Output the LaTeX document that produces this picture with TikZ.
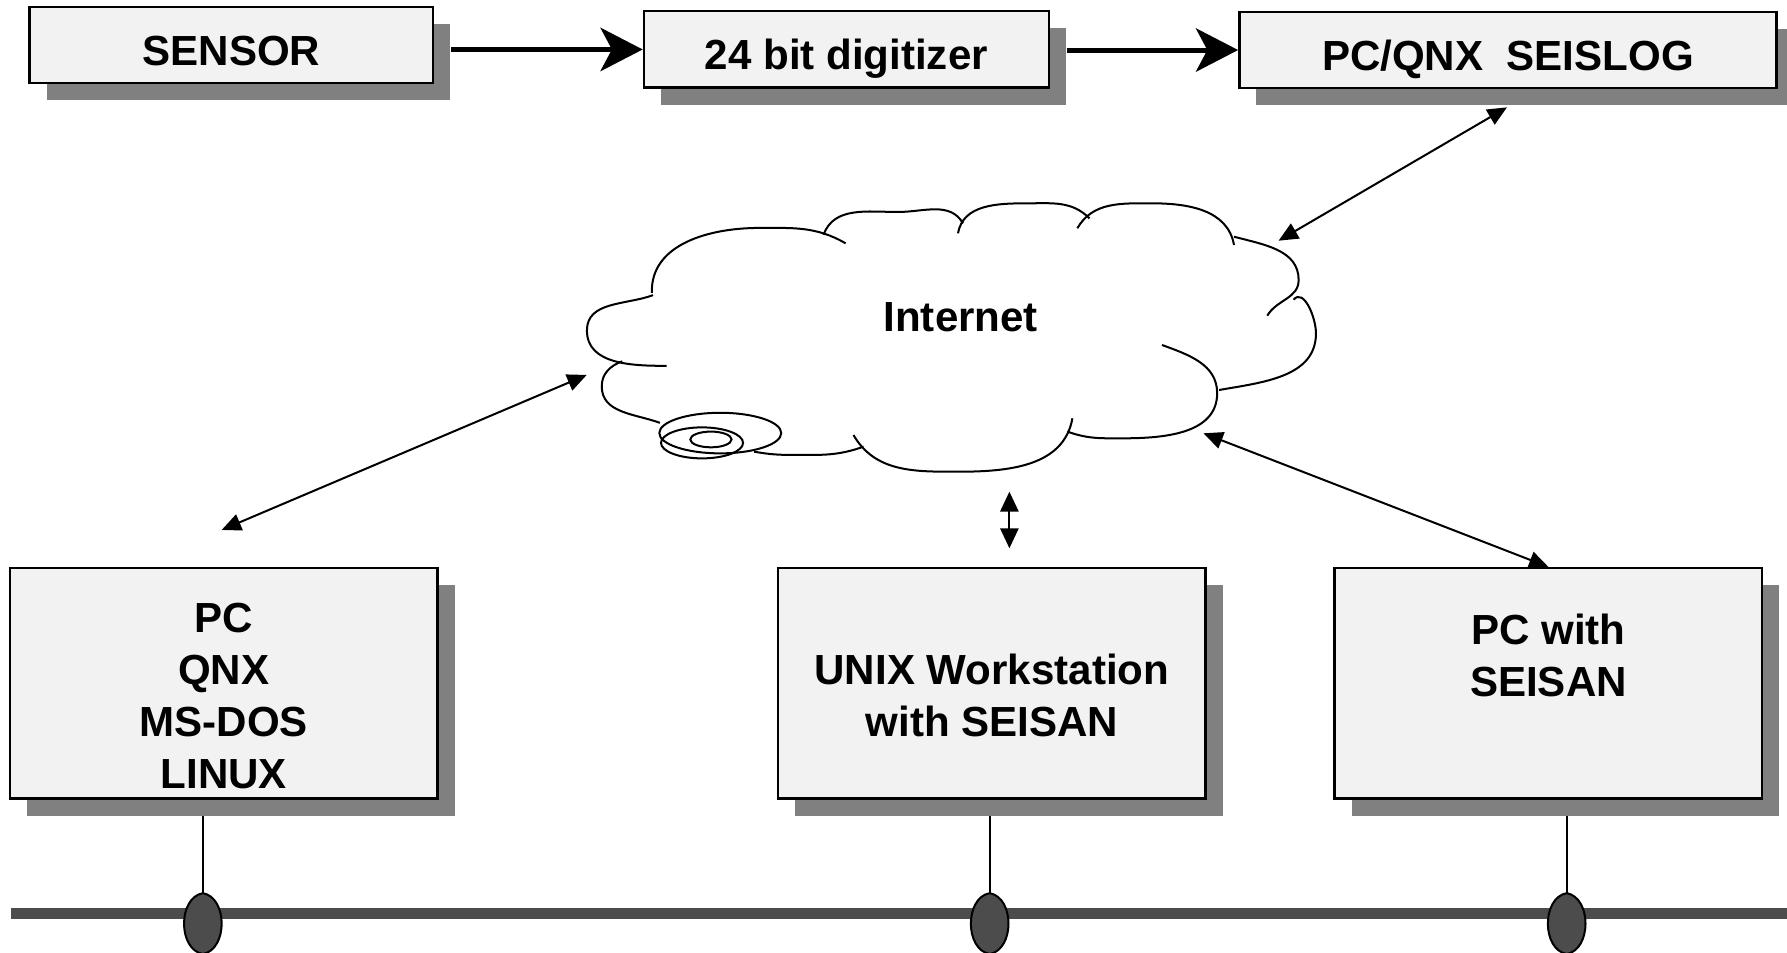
\documentclass[tikz,border=0pt]{standalone}
\usepackage{fontspec}
\setmainfont{Liberation Sans}
\usepackage{tikz}
\usetikzlibrary{shapes.geometric,shadows,backgrounds,arrows.meta}

\begin{document}
\begin{tikzpicture}[x=0.01cm,y=-0.01cm]%%seisnet

                \tikzstyle{box}      = [draw, line width=0.6pt, fill=black!5, inner sep=0pt, font=\bfseries\fontsize{10.5}{13}\selectfont, drop shadow={shadow xshift=0.15cm, shadow yshift=-0.15cm, fill=black!50, opacity=1}]
                \tikzstyle{topbox}   = [box, minimum height=0.67cm, text height=10pt, text depth=0pt]
                \tikzstyle{hostbox}  = [box, minimum width=3.75cm, minimum height=2.02cm]
                \tikzstyle{hosttext} = [font=\bfseries\fontsize{10.5}{13}\selectfont, align=center, inner sep=0pt]
                \tikzstyle{feed}     = [line width=1.25pt, -{Stealth[length=0.37cm, width=0.38cm, inset=0.1cm]}]
                \tikzstyle{link}     = [line width=0.5pt, {Triangle[length=0.17cm, width=0.15cm]}-{Triangle[length=0.17cm, width=0.15cm]}]
                \tikzstyle{shortlink}= [line width=0.5pt, {Triangle[length=0.175cm, width=0.16cm]}-{Triangle[length=0.175cm, width=0.16cm]}]
                \tikzstyle{puff}     = [line width=0.5pt]
                \tikzstyle{tap}      = [ellipse, minimum width=0.33cm, minimum height=0.52cm, inner sep=0pt]
                \tikzstyle{lens}     = [draw, line width=0.5pt, fill=black!70]

                \useasboundingbox (0,0) rectangle (1568,836);

                % acquisition chain
                \node [topbox, minimum width=3.54cm] (sensor) at (203,39.5) {SENSOR};
                \node [topbox, minimum width=3.55cm] (digitizer) at (742.6,43.4) {24 bit digitizer};
                \node [topbox, minimum width=4.71cm] (seislog) at (1323.1,43.9) {PC/QNX\ \ SEISLOG};
                \coordinate (sensorout) at (396,43.4);
                \coordinate (digitout) at (936,43.9);
                \draw [feed] (sensorout) -- (digitizer.west);
                \draw [feed] (digitout) -- (seislog.west);

                % the cloud
                \draw [puff] (573,259) to[out=200,in=90] (515,290) to[out=270,in=180] (585,321);
                \draw [puff] (546,317) to[out=200,in=90] (528,339) to[out=270,in=160] (579,371);
                \draw [puff] (572,257) to[out=92,in=180] (666,200) to[out=0,in=150] (742,213.5);
                \draw [puff] (722.6,206) to[out=70,in=180] (788,186) to[out=0,in=120] (845,196);
                \draw [puff] (840.6,204.7) to[out=80,in=180] (901.6,178.4) to[out=0,in=135] (956,191.6);
                \draw [puff] (945.3,200.3) to[out=60,in=180] (1010.8,178.4) to[out=0,in=100] (1082.8,215);
                \draw [puff] (1082.8,207.7) to[out=-15,in=90] (1139.5,245.7) to[out=270,in=60] (1112,277);
                \draw [puff] (1135,263) to[out=50,in=90] (1154.7,292.5) to[out=270,in=10] (1069.7,342.2);
                \draw [puff] (1019.6,302.7) to[out=-20,in=90] (1068,345) to[out=270,in=0] (984.5,384.6) to[out=180,in=-20] (936.6,378.7);
                \draw [puff] (941,367) to[out=260,in=0] (840.6,413.9) to[out=180,in=-60] (748.9,381.7);
                \draw [puff] (757.7,391.9) to[out=200,in=0] (696.5,399.2) to[out=180,in=-10] (661.6,396.3);
                \draw [puff, fill=white] (632,380) ellipse (53.5 and 17.8);
                \draw [puff] (616,388.6) ellipse (36 and 13.6);
                \draw [puff] (623.8,385.6) ellipse (18.1 and 6.9);
                \node [font=\bfseries\fontsize{10.5}{13}\selectfont] (internet) at (843,278) {Internet};

                % hosts
                \node [hostbox] (pc) at (196.4,599.6) {};
                \node [hostbox] (unix) at (870.3,599.6) {};
                \node [hostbox] (pcwith) at (1358.7,599.6) {};
                \node [hosttext] (pctext) at (196.4,611) {PC\\QNX\\MS-DOS\\LINUX};
                \node [hosttext] (unixtext) at (870.3,610.5) {UNIX Workstation\\with SEISAN};
                \node [hosttext] (pcwithtext) at (1358.7,575.5) {PC with\\SEISAN};

                % links to the internet
                \coordinate (seislogport) at (1322.3,94.2);
                \coordinate (cloudne) at (1121.9,211.2);
                \coordinate (pcport) at (194.5,465);
                \coordinate (cloudw) at (514.8,329);
                \coordinate (cloudse) at (1056,380.2);
                \coordinate (clouds) at (885.7,431.4);
                \coordinate (unixport) at (885.7,481.1);
                \draw [link] (cloudne) -- (seislogport);
                \draw [link] (pcport) -- (cloudw);
                \draw [link] (cloudse) -- (pcwith.north);
                \draw [shortlink] (clouds) -- (unixport);

                % the bus
                \coordinate (busw) at (10,801.8);
                \coordinate (buse) at (1568,801.8);
                \draw [line width=0.096cm, black!70] (busw) -- (buse);
                \foreach \h/\x in {pc/178, unix/868.4, pcwith/1374.7}
                {
                        \node [tap] (\h tap) at (\x,810.4) {};
                        \draw [lens] (\h tap.north) .. controls ([xshift=0.22cm, yshift=-0.04cm]\h tap.north) and ([xshift=0.22cm, yshift=0.04cm]\h tap.south) .. (\h tap.south)
                                .. controls ([xshift=-0.22cm, yshift=0.04cm]\h tap.south) and ([xshift=-0.22cm, yshift=-0.04cm]\h tap.north) .. cycle;
                        \begin{scope}[on background layer]
                                \draw [line width=0.5pt] (\h tap.north) -- (\h tap.north |- \h.south);
                        \end{scope}
                }
\end{tikzpicture}
\end{document}
